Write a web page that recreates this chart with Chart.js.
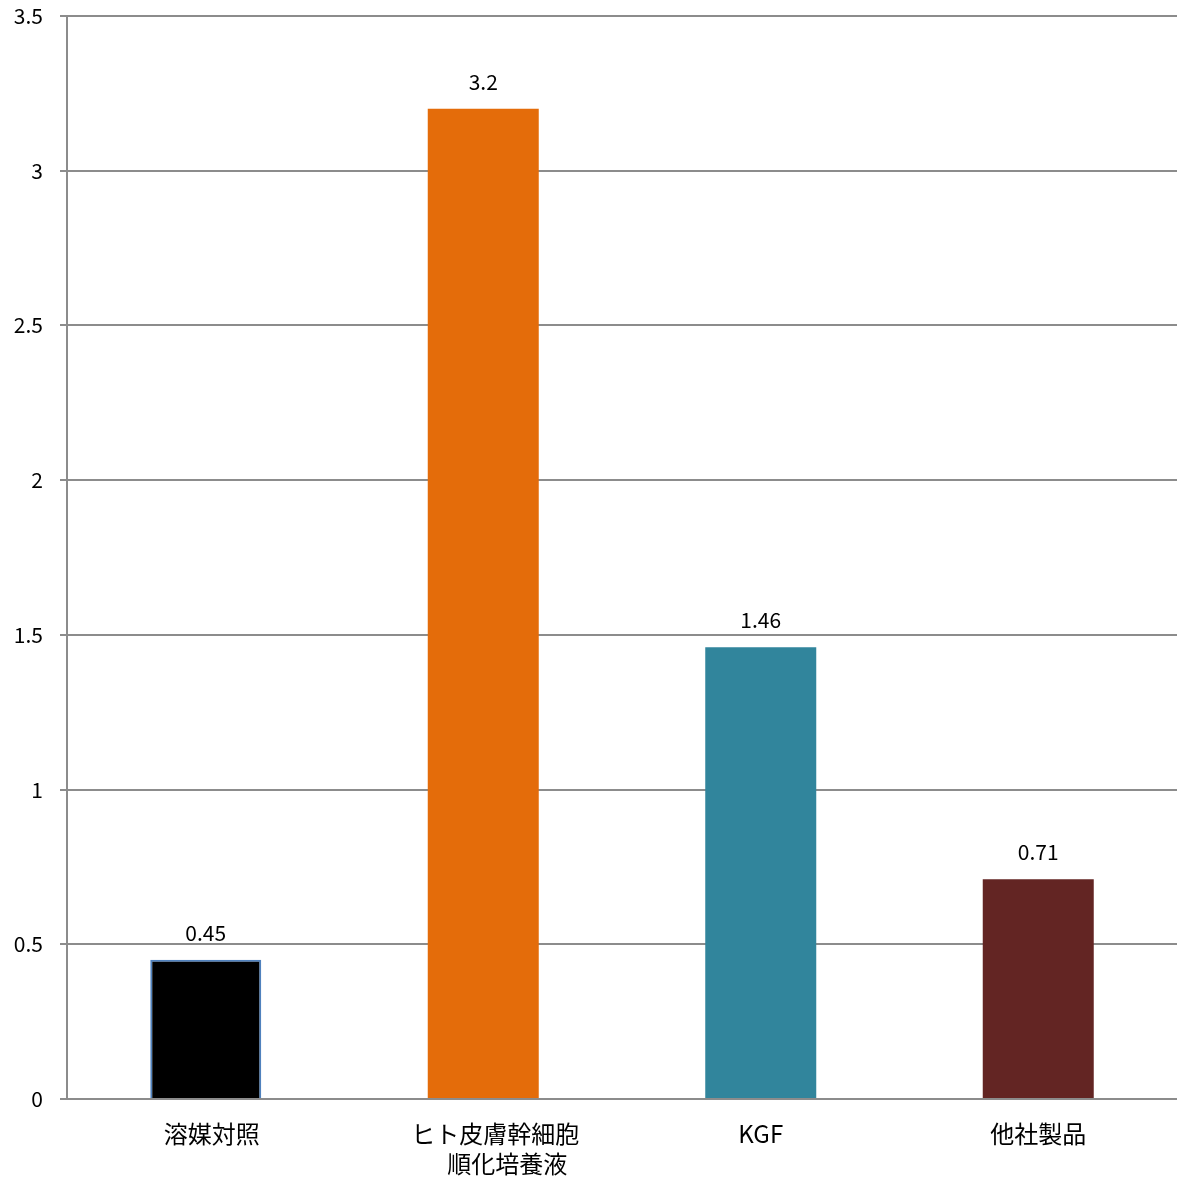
<!DOCTYPE html>
<html>
<head>
<meta charset="utf-8">
<script src="https://cdn.jsdelivr.net/npm/chart.js@4.4.1/dist/chart.umd.min.js"></script>
<style>
  html, body { margin: 0; padding: 0; background: #ffffff; }
  #wrap { width: 1182px; height: 1178px; position: relative; }
</style>
</head>
<body>
<div id="wrap"><canvas id="c"></canvas></div>
<script>
// Values per sample group
const categories = ['\u2002溶媒対照', ['\u3000ヒト皮膚幹細胞', '\u3000\u3000順化培養液'], 'KGF', '他社製品'];
const values = [0.45, 3.2, 1.46, 0.71];
const barColors = ['#000000', '#e46c0a', '#31859c', '#632523'];
const barBorders = ['#4f81bd', '#e46c0a', '#31859c', '#632523'];
const yTicks = [0, 0.5, 1, 1.5, 2, 2.5, 3, 3.5];

const FONT = "'Noto Sans CJK JP', 'Noto Sans', sans-serif";

// Draws each bar's value above it
const valueLabels = {
  id: 'valueLabels',
  afterDatasetsDraw(chart) {
    const ctx = chart.ctx;
    const meta = chart.getDatasetMeta(0);
    ctx.save();
    ctx.font = '21px ' + FONT;
    ctx.fillStyle = '#000000';
    ctx.textAlign = 'center';
    ctx.textBaseline = 'middle';
    meta.data.forEach((bar, i) => {
      ctx.fillText(String(values[i]), bar.x, bar.y - 27);
    });
    ctx.restore();
  }
};

new Chart(document.getElementById('c'), {
  type: 'bar',
  data: {
    labels: categories,
    datasets: [{
      data: values,
      backgroundColor: barColors,
      borderColor: barBorders,
      borderWidth: [2, 0, 0, 0],
      categoryPercentage: 1.0,
      barPercentage: 0.4
    }]
  },
  options: {
    responsive: true,
    maintainAspectRatio: false,
    animation: false,
    layout: { padding: { top: 16, right: 5, left: 0, bottom: 0 } },
    plugins: { legend: { display: false }, tooltip: { enabled: false } },
    scales: {
      x: {
        grid: { display: false },
        border: { display: false },
        ticks: {
          color: '#000000',
          font: { family: FONT, size: 24, lineHeight: 1.25 },
          padding: 12,
          maxRotation: 0,
          autoSkip: false
        },
        afterFit(scale) {
          scale.height = 79;
          scale.paddingLeft = 0;
          scale.paddingRight = 0;
        }
      },
      y: {
        min: 0,
        max: 3.5,
        afterBuildTicks(scale) { scale.ticks = yTicks.map(v => ({ value: v })); },
        grid: { color: '#8c8c8c', lineWidth: 2, tickLength: 7, drawTicks: true },
        border: { display: true, color: '#8c8c8c', width: 2 },
        ticks: {
          color: '#000000',
          font: { family: FONT, size: 21 },
          padding: 17,
          callback: v => String(v)
        },
        afterFit(scale) {
          scale.width = 67;
          scale.paddingTop = 0;
          scale.paddingBottom = 0;
        }
      }
    }
  },
  plugins: [valueLabels]
});
</script>
</body>
</html>
